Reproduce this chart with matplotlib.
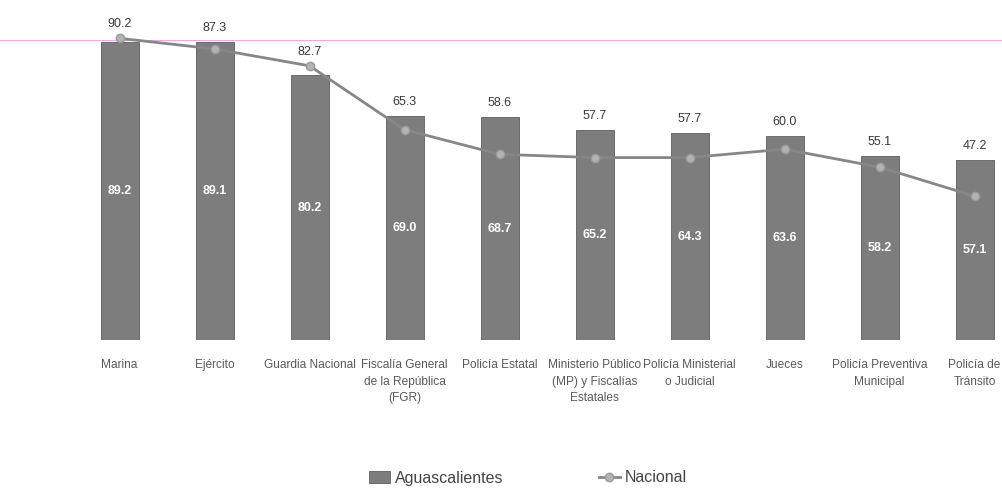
import matplotlib
matplotlib.use('Agg')
import matplotlib.pyplot as plt
from matplotlib.lines import Line2D
import numpy as np

categories = ['Marina', 'Ejército', 'Guardia Nacional', 'Fiscalía General\nde la República\n(FGR)',
              'Policía Estatal', 'Ministerio Público\n(MP) y Fiscalías\nEstatales',
              'Policía Ministerial\no Judicial', 'Jueces', 'Policía Preventiva\nMunicipal',
              'Policía de\nTránsito']
aguascalientes = [89.2, 89.1, 80.2, 69.0, 68.7, 65.2, 64.3, 63.6, 58.2, 57.1]
nacional = [90.2, 87.3, 82.7, 65.3, 58.6, 57.7, 57.7, 60.0, 55.1, 47.2]

plt.rcParams['font.family'] = ['Liberation Sans', 'DejaVu Sans']

fig = plt.figure(figsize=(10.03, 4.96), dpi=100)
ax = fig.add_axes([72 / 1003, 156 / 496, 950 / 1003, 334 / 496])
ax.patch.set_visible(False)

y0 = 8.0
x = np.arange(len(categories))
bars = ax.bar(x, np.array(aguascalientes) - y0, bottom=y0, width=0.4, color='#7d7d7d',
              edgecolor='#5e5e5e', lw=0.6, label='Aguascalientes', zorder=2)
ax.plot(x, nacional, '-o', color='#878787', lw=2.0, ms=6, mfc='#b3b3b3', mec='#9a9a9a',
        label='Nacional', zorder=3)

for xi, a, n in zip(x, aguascalientes, nacional):
    ax.text(xi, (a + y0) / 2, f'{a:.1f}', ha='center', va='center', color='white',
            fontsize=9, fontweight='bold', zorder=4)
    ax.annotate(f'{n:.1f}', (xi, max(a, n)), xytext=(0, 10), textcoords='offset points',
                ha='center', va='center', color='#3a3a3a', fontsize=9, zorder=4)

ax.set_xlim(-0.5, len(categories) - 0.5)
ax.set_ylim(y0, 99)
ax.set_xticks(x)
ax.set_xticklabels(categories, fontsize=8.6, color='#5a5a5a', linespacing=1.5)
ax.tick_params(axis='x', length=0, pad=14)
ax.set_yticks([])
for s in ax.spines.values():
    s.set_visible(False)

# faint pink scan line across the top
fig.add_artist(Line2D([0, 1], [1 - 40 / 496, 1 - 40 / 496], color='#f2a6e6', lw=0.8,
                      transform=fig.transFigure, zorder=0))

fig.legend(handles=[bars, ax.lines[0]], labels=['Aguascalientes', 'Nacional'],
           loc='center', bbox_to_anchor=(528 / 1003, 1 - 478 / 496), ncol=2, frameon=False,
           fontsize=11.5, handlelength=1.3, handletextpad=0.3, columnspacing=6,
           labelcolor='#444444')

fig.savefig('out.png', dpi=100)
